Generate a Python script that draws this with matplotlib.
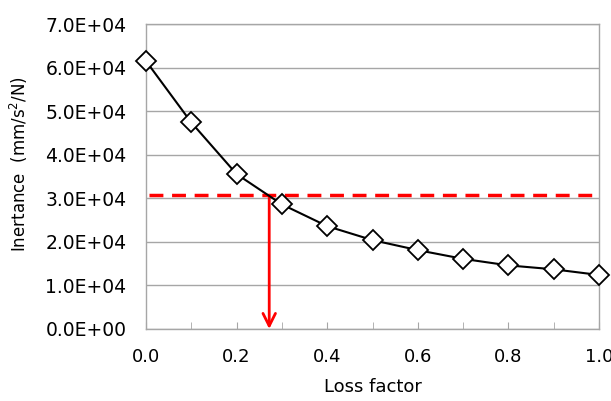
import numpy as np
import matplotlib
matplotlib.use("Agg")
import matplotlib.pyplot as plt
from matplotlib.ticker import MultipleLocator, FuncFormatter

# data
loss_factor = [0.0, 0.1, 0.2, 0.3, 0.4, 0.5, 0.6, 0.7, 0.8, 0.9, 1.0]
inertance = [61500, 47400, 35550, 28600, 23600, 20400, 18100, 16100, 14600, 13700, 12400]
target_level = 30700
target_loss = 0.272

plt.rcParams["font.family"] = "DejaVu Sans"

fig = plt.figure(figsize=(6.11, 4.01), dpi=100)
ax = fig.add_axes([146 / 611, 1 - 329 / 401, 453 / 611, 305 / 401])

ax.plot(loss_factor, inertance, color="black", lw=1.5, marker="D", markersize=10,
        markerfacecolor="white", markeredgecolor="black", markeredgewidth=1.3,
        zorder=4, clip_on=False)

# threshold line and arrow
ax.plot([0.007, 1.0], [target_level, target_level], color="#ff0000", lw=2.5,
        dashes=(4, 2.5), zorder=3)
ax.annotate("", xy=(target_loss, 0), xytext=(target_loss, target_level),
            arrowprops=dict(arrowstyle="->,head_length=0.9,head_width=0.45",
                            color="#ff0000", lw=2, shrinkA=0, shrinkB=0),
            zorder=3, annotation_clip=False)

ax.set_xlim(0, 1.0)
ax.set_ylim(0, 70000)
ax.xaxis.set_major_locator(MultipleLocator(0.2))
ax.xaxis.set_minor_locator(MultipleLocator(0.1))
ax.yaxis.set_major_locator(MultipleLocator(10000))
ax.xaxis.set_major_formatter(FuncFormatter(lambda v, p: f"{v:.1f}"))
ax.yaxis.set_major_formatter(FuncFormatter(lambda v, p: f"{v:.1E}"))

ax.grid(axis="y", color="#a6a6a6", lw=1)
ax.set_axisbelow(True)
for s in ax.spines.values():
    s.set_color("#a6a6a6")
    s.set_linewidth(1)

ax.tick_params(axis="x", which="both", direction="in", length=5, color="#a6a6a6",
               labelsize=13, pad=14)
ax.tick_params(axis="y", length=0, labelsize=13.5, pad=14)

ax.set_xlabel("Loss factor", fontsize=13, labelpad=8)
ax.set_ylabel("Inertance  (mm/s$^2$/N)", fontsize=12)
ax.yaxis.set_label_coords(-0.255, 0.54)

fig.savefig("out.png", dpi=100)
